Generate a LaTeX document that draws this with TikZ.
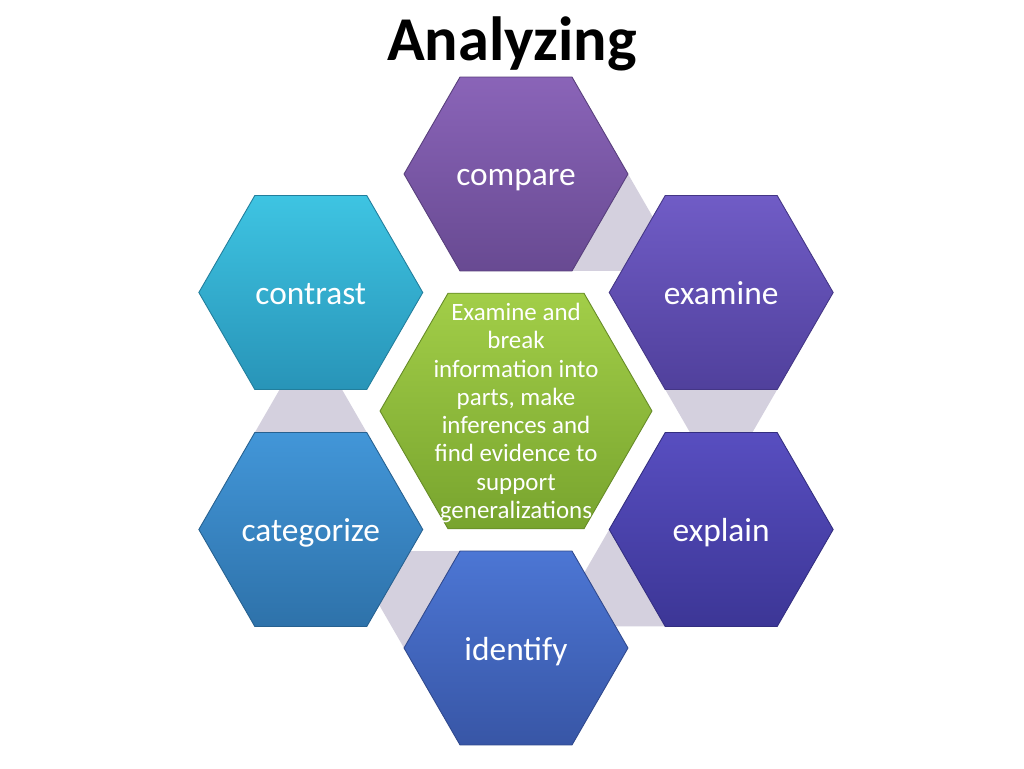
\documentclass[tikz,border=0pt]{standalone}
\usepackage{fontspec}
\setmainfont{Carlito}
\usetikzlibrary{shapes.geometric,calc,backgrounds}
\definecolor{cmpT}{RGB}{138,100,184}
\definecolor{cmpB}{RGB}{104,74,146}
\definecolor{exaT}{RGB}{112,92,198}
\definecolor{exaB}{RGB}{80,64,156}
\definecolor{expT}{RGB}{88,78,192}
\definecolor{expB}{RGB}{60,54,150}
\definecolor{idfT}{RGB}{76,118,212}
\definecolor{idfB}{RGB}{56,86,166}
\definecolor{catT}{RGB}{66,150,216}
\definecolor{catB}{RGB}{46,114,170}
\definecolor{conT}{RGB}{62,196,226}
\definecolor{conB}{RGB}{40,148,184}
\definecolor{ctrT}{RGB}{162,206,72}
\definecolor{ctrB}{RGB}{120,164,46}
\definecolor{gapgray}{RGB}{212,208,222}
\newcommand\gapband[2]{%
  \fill[gap] ($(#1)+({#2+30}:112)$) -- ($(#1)+({#2+12.56}:143.4)$) --
    ($(#1)+({#2-12.56}:143.4)$) -- ($(#1)+({#2-30}:112)$) -- cycle;}
\begin{document}
\begin{tikzpicture}[x=0.02cm,y=0.02cm,
  hexa/.style={regular polygon, regular polygon sides=6, minimum size=4.48cm,
    inner sep=0pt, outer sep=0pt, line width=0.5pt},
  lbl/.style={text=white, font=\fontsize{19}{22}\selectfont, anchor=base, inner sep=0pt},
  gap/.style={fill=gapgray, draw=none},
  coretext/.style={text=white, align=center, font=\fontsize{14.2}{16.1}\selectfont}]
\useasboundingbox (0,0) rectangle (1024,768);
\node[font=\bfseries\fontsize{35.5}{40}\selectfont, anchor=base] (title) at (512,707) {Analyzing};
\node[hexa, top color=cmpT, bottom color=cmpB, draw=cmpB!85!black] (compare) at (516,594) {};
\node[hexa, top color=exaT, bottom color=exaB, draw=exaB!85!black] (examine) at (721.2,475.5) {};
\node[hexa, top color=expT, bottom color=expB, draw=expB!85!black] (explain) at (721.2,238.5) {};
\node[hexa, top color=idfT, bottom color=idfB, draw=idfB!85!black] (identify) at (516,120) {};
\node[hexa, top color=catT, bottom color=catB, draw=catB!85!black] (categorize) at (310.8,238.5) {};
\node[hexa, top color=conT, bottom color=conB, draw=conB!85!black] (contrast) at (310.8,475.5) {};
\node[hexa, minimum size=5.44cm, top color=ctrT, bottom color=ctrB, draw=ctrB!85!black] (core) at (516,357) {};
\node[lbl] (compare-t) at ($(compare)+(0,-12)$) {compare};
\node[lbl] (examine-t) at ($(examine)+(0,-12)$) {examine};
\node[lbl] (explain-t) at ($(explain)+(0,-12)$) {explain};
\node[lbl] (identify-t) at ($(identify)+(0,-12)$) {identify};
\node[lbl] (categorize-t) at ($(categorize)+(0,-12)$) {categorize};
\node[lbl] (contrast-t) at ($(contrast)+(0,-12)$) {contrast};
\node[coretext] (coretxt) at ($(core.center)+(0,-2)$) {Examine and\\break\\information into\\parts, make\\inferences and\\find evidence to\\support\\generalizations};
\begin{scope}[on background layer]
\fill[white] (0,0) rectangle (1024,768);
\gapband{compare}{-30}
\gapband{examine}{-90}
\gapband{explain}{-150}
\gapband{identify}{150}
\gapband{categorize}{90}
\end{scope}
\end{tikzpicture}
\end{document}
